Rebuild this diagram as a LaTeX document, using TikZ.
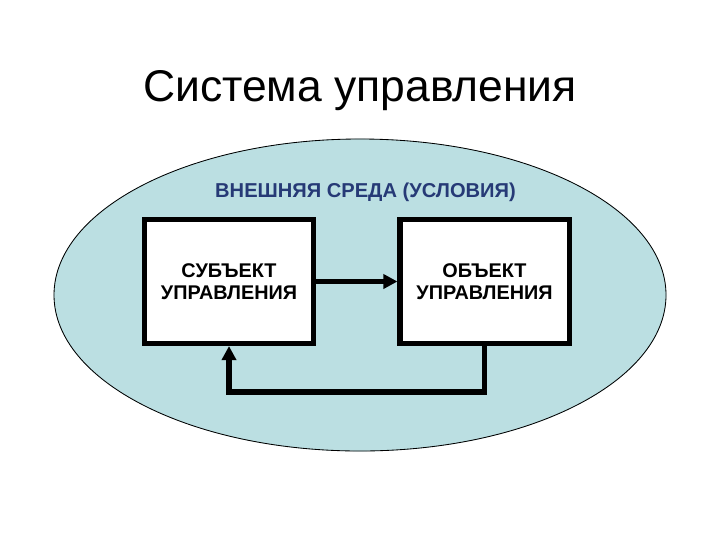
\documentclass[tikz,border=0pt]{standalone}
\usepackage{fontspec}
\setmainfont{Liberation Sans}
\usetikzlibrary{arrows.meta}
\definecolor{envFill}{RGB}{187,223,226}
\definecolor{envText}{RGB}{38,58,118}

\begin{document}
\begin{tikzpicture}[x=0.025cm, y=-0.025cm,
    unitBox/.style={draw, line width=3.6pt, fill=white, minimum width=4.225cm,
        minimum height=3.1cm, align=center,
        font=\fontsize{14.1}{15.6}\selectfont\bfseries},
    flowLine/.style={line width=3.6pt, -{Triangle[length=10pt, width=10pt]}}]
    % --- Configuration ---
    \def\envCx{360}   % centre of the environment ellipse
    \def\envCy{295}
    \def\boxY{281.5}  % centre line of both boxes
    \def\loopY{392}   % level of the feedback line

    \useasboundingbox (0,0) rectangle (720,540);

    % --- Title ---
    \node[anchor=base, font=\fontsize{31.6}{38}\selectfont] (title) at (360,101) {Система управления};

    % --- Environment ---
    \draw[envFill, fill=envFill] (\envCx,\envCy) ellipse [x radius=306, y radius=156];
    \draw[black, line width=0.6pt] (\envCx,\envCy) ellipse [x radius=306, y radius=156];
    \node[anchor=base, text=envText, font=\fontsize{14.3}{16}\selectfont\bfseries] (env) at (365.5,197) {ВНЕШНЯЯ СРЕДА (УСЛОВИЯ)};

    % --- Boxes ---
    \node[unitBox] (subj) at (229,\boxY) {СУБЪЕКТ\\УПРАВЛЕНИЯ};
    \node[unitBox] (obj) at (484.5,\boxY) {ОБЪЕКТ\\УПРАВЛЕНИЯ};

    % --- Connectors ---
    \coordinate (loop) at (\envCx,\loopY);
    \draw[flowLine] (subj) -- (obj);
    \draw[flowLine] (obj.south) |- (loop) -| (subj.south);

\end{tikzpicture}
\end{document}
